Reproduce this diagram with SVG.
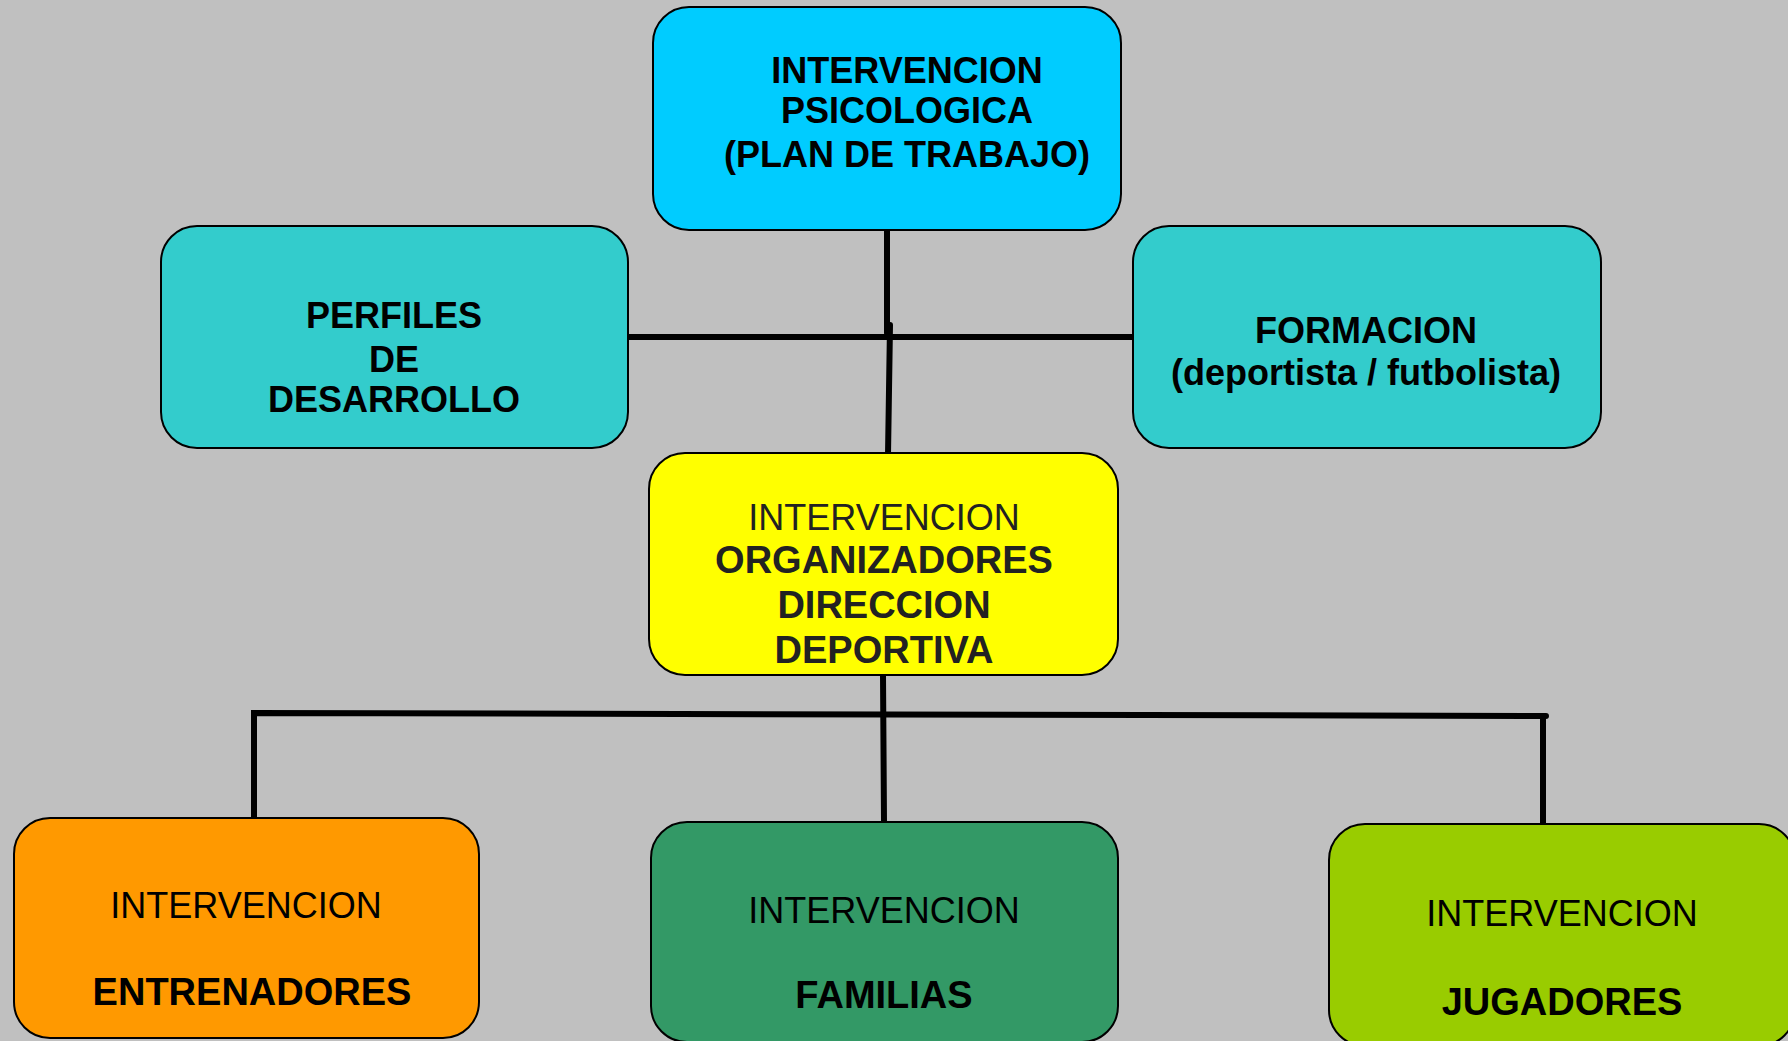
<svg xmlns="http://www.w3.org/2000/svg" width="1788" height="1041" viewBox="0 0 1788 1041">
<style>
.box{stroke:#000;stroke-width:2}
text{font-family:"Liberation Sans",Arial,sans-serif;font-size:36px;text-anchor:middle;fill:#000}
.b{font-weight:bold}
.r{font-weight:normal}
.dk{fill:#222}
.big{font-size:38px}
.conn{stroke:#000;stroke-width:6;fill:none;stroke-linecap:round;stroke-linejoin:miter}
</style>
<rect x="0" y="0" width="1788" height="1041" fill="#C0C0C0"/>
<g id="connectors">
<path class="conn" d="M887 230 L887 333"/>
<path class="conn" d="M628 337 L1133 337"/>
<path class="conn" d="M890 325 L888 455"/>
<path class="conn" d="M883 675 L884 821"/>
<path class="conn" d="M254 818 L254 713 L1546 716"/>
<path class="conn" d="M1543 716 L1543 825"/>
</g>
<g id="node-psicologica">
<rect class="box" x="653" y="7" width="468" height="223" rx="36" fill="#00CCFF"/>
<text class="b" x="907" y="83">INTERVENCION</text>
<text class="b" x="907" y="123">PSICOLOGICA</text>
<text class="b" x="907" y="167">(PLAN DE TRABAJO)</text>
</g>
<g id="node-perfiles">
<rect class="box" x="161" y="226" width="467" height="222" rx="36" fill="#33CCCC"/>
<text class="b" x="394" y="328">PERFILES</text>
<text class="b" x="394" y="372">DE</text>
<text class="b" x="394" y="412">DESARROLLO</text>
</g>
<g id="node-formacion">
<rect class="box" x="1133" y="226" width="468" height="222" rx="36" fill="#33CCCC"/>
<text class="b" x="1366" y="343">FORMACION</text>
<text class="b" x="1366" y="385">(deportista / futbolista)</text>
</g>
<g id="node-organizadores">
<rect class="box" x="649" y="453" width="469" height="222" rx="36" fill="#FFFF00"/>
<text class="r dk" x="884" y="530">INTERVENCION</text>
<text class="b dk big" x="884" y="573">ORGANIZADORES</text>
<text class="b dk big" x="884" y="618">DIRECCION</text>
<text class="b dk big" x="884" y="663">DEPORTIVA</text>
</g>
<g id="node-entrenadores">
<rect class="box" x="14" y="818" width="465" height="220" rx="36" fill="#FF9900"/>
<text class="r" x="246" y="918">INTERVENCION</text>
<text class="b big" x="252" y="1005">ENTRENADORES</text>
</g>
<g id="node-familias">
<rect class="box" x="651" y="822" width="467" height="220" rx="36" fill="#339966"/>
<text class="r" x="884" y="923">INTERVENCION</text>
<text class="b big" x="884" y="1008">FAMILIAS</text>
</g>
<g id="node-jugadores">
<rect class="box" x="1329" y="824" width="466" height="222" rx="36" fill="#99CC00"/>
<text class="r" x="1562" y="926">INTERVENCION</text>
<text class="b big" x="1562" y="1015">JUGADORES</text>
</g>
</svg>
